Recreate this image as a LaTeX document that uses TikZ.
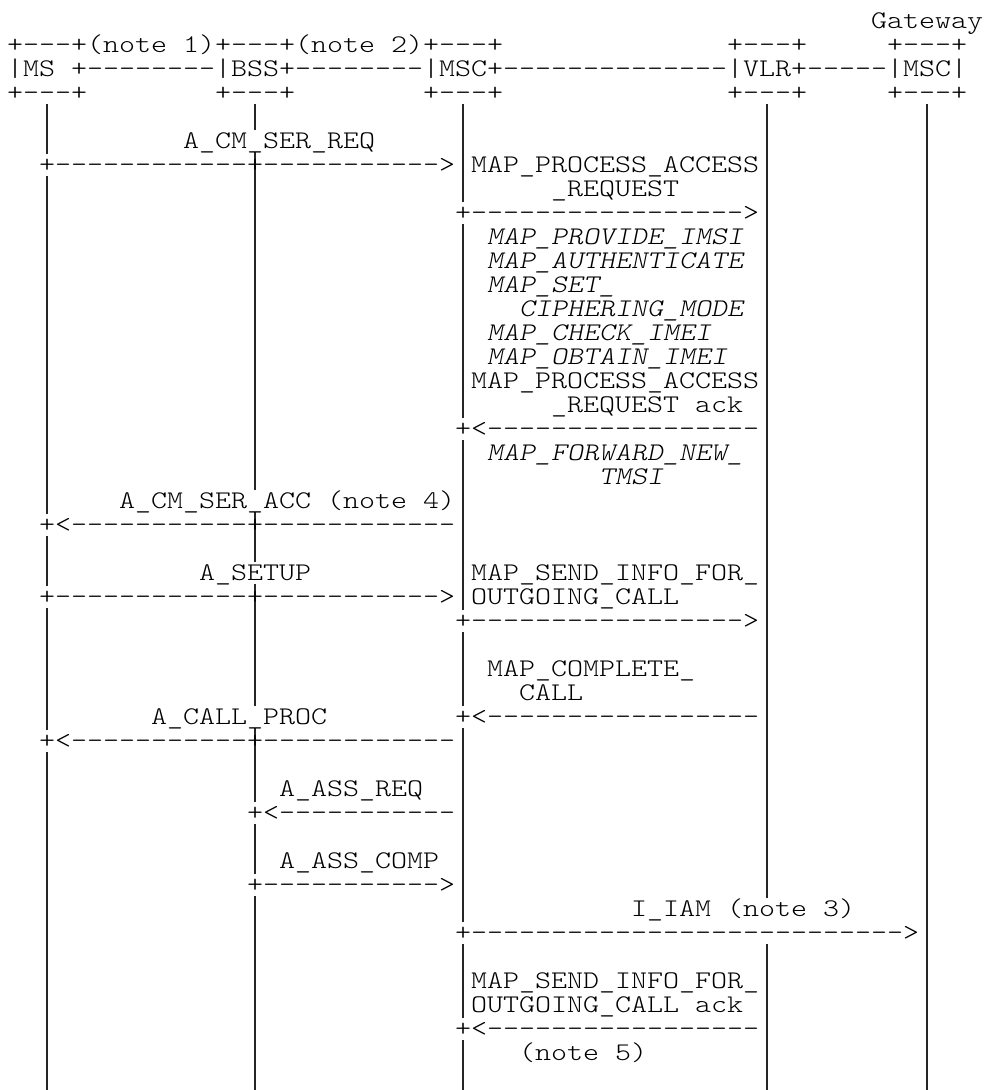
\documentclass[tikz,border=0pt]{standalone}
\usepackage{fontspec}
\newfontfamily\cour{lmmonolt10-regular.otf}[FakeStretch=1.2,ItalicFont=lmmonolt10-oblique.otf]
\ExplSyntaxOn
\NewDocumentCommand\Rep{mm}{\prg_replicate:nn{#1}{#2}}
\ExplSyntaxOff
\tikzset{
  txt/.style={anchor=base west,inner sep=0pt,outer sep=0pt,font=\cour\fontsize{25.4}{25.4}\selectfont,text=black},
  itxt/.style={txt,font=\cour\itshape\fontsize{25.4}{25.4}\selectfont},
  life/.style={line width=1.15pt,draw=black!85}
}
% text cell: row, column
\newcommand\T[4][]{\node[txt,#1] (t-#2-#3) at ({7+16*#3},{28+24*#2}) {#4};}
% lifeline segment: column, first row, last row
\newcommand\LL[3]{%
  \coordinate (L#1-#2a) at ({15+16*#1},{8+24*#2});
  \coordinate (L#1-#2b) at ({15+16*#1},{34+24*#3});
  \draw[life] (L#1-#2a) -- (L#1-#2b);}
\begin{document}
\begin{tikzpicture}[x=1pt,y=-1pt]
\fill[white] (0,0) rectangle (987,1090);
\useasboundingbox (0,0) rectangle (987,1090);
% lifelines
\LL{2}{4}{5}\LL{2}{7}{20}\LL{2}{22}{23}\LL{2}{25}{29}\LL{2}{31}{44}
\LL{15}{4}{4}\LL{15}{6}{19}\LL{15}{21}{22}\LL{15}{24}{28}\LL{15}{30}{32}\LL{15}{34}{35}\LL{15}{37}{44}
\LL{28}{4}{7}\LL{28}{9}{16}\LL{28}{18}{24}\LL{28}{26}{28}\LL{28}{30}{37}\LL{28}{39}{41}\LL{28}{43}{44}
\LL{47}{4}{36}\LL{47}{39}{44}
\LL{57}{4}{44}
% header boxes
\T{0}{54}{Gateway}
\T{1}{0}{+---+(note 1)+---+(note 2)+---+}
\T{1}{45}{+---+}
\T{1}{55}{+---+}
\T{2}{0}{|MS +\Rep{8}{-}|BSS+\Rep{8}{-}|MSC+\Rep{14}{-}|VLR+\Rep{5}{-}|MSC|}
\T{3}{0}{+---+}\T{3}{13}{+---+}\T{3}{26}{+---+}\T{3}{45}{+---+}\T{3}{55}{+---+}
% messages
\T{5}{11}{A\_CM\_SER\_REQ}
\T{6}{2}{+\Rep{12}{-}+\Rep{11}{-}>}
\T{6}{29}{MAP\_PROCESS\_ACCESS}
\T{7}{34}{\_REQUEST}
\T{8}{28}{+\Rep{17}{-}>}
\T[itxt]{9}{30}{MAP\_PROVIDE\_IMSI}
\T[itxt]{10}{30}{MAP\_AUTHENTICATE}
\T[itxt]{11}{30}{MAP\_SET\_}
\T[itxt]{12}{32}{CIPHERING\_MODE}
\T[itxt]{13}{30}{MAP\_CHECK\_IMEI}
\T[itxt]{14}{30}{MAP\_OBTAIN\_IMEI}
\T{15}{29}{MAP\_PROCESS\_ACCESS}
\T{16}{34}{\_REQUEST ack}
\T{17}{28}{+<\Rep{17}{-}}
\T[itxt]{18}{30}{MAP\_FORWARD\_NEW\_}
\T[itxt]{19}{37}{TMSI}
\T{20}{7}{A\_CM\_SER\_ACC (note 4)}
\T{21}{2}{+<\Rep{11}{-}+\Rep{12}{-}}
\T{23}{12}{A\_SETUP}
\T{23}{29}{MAP\_SEND\_INFO\_FOR\_}
\T{24}{2}{+\Rep{12}{-}+\Rep{11}{-}>}
\T{24}{29}{OUTGOING\_CALL}
\T{25}{28}{+\Rep{17}{-}>}
\T{27}{30}{MAP\_COMPLETE\_}
\T{28}{32}{CALL}
\T{29}{9}{A\_CALL\_PROC}
\T{29}{28}{+<\Rep{17}{-}}
\T{30}{2}{+<\Rep{11}{-}+\Rep{12}{-}}
\T{32}{17}{A\_ASS\_REQ}
\T{33}{15}{+<\Rep{11}{-}}
\T{35}{17}{A\_ASS\_COMP}
\T{36}{15}{+\Rep{11}{-}>}
\T{37}{39}{I\_IAM (note 3)}
\T{38}{28}{+\Rep{27}{-}>}
\T{40}{29}{MAP\_SEND\_INFO\_FOR\_}
\T{41}{29}{OUTGOING\_CALL ack}
\T{42}{28}{+<\Rep{17}{-}}
\T{43}{32}{(note 5)}
\end{tikzpicture}
\end{document}
